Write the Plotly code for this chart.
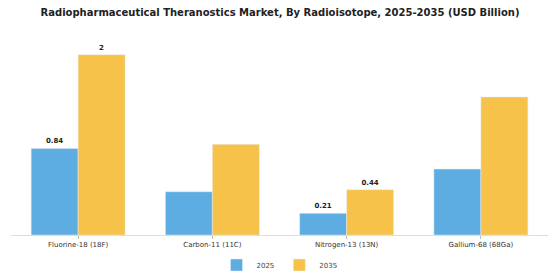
import plotly.graph_objects as go

categories = ["Fluorine-18 (18F)", "Carbon-11 (11C)", "Nitrogen-13 (13N)", "Gallium-68 (68Ga)"]
values_2025 = [0.84, 0.42, 0.21, 0.64]
values_2035 = [1.75, 0.88, 0.44, 1.34]
labels_2025 = ["<b>0.84</b>", "", "<b>0.21</b>", ""]
labels_2035 = ["<b>2</b>", "", "<b>0.44</b>", ""]

fig = go.Figure()
fig.add_trace(go.Bar(x=categories, y=values_2025, name="2025", marker_color="#5DADE2",
                     text=labels_2025, textposition="outside", cliponaxis=False,
                     textfont=dict(family="DejaVu Sans", size=7, color="#222")))
fig.add_trace(go.Bar(x=categories, y=values_2035, name="2035", marker_color="#F7C24A",
                     text=labels_2035, textposition="outside", cliponaxis=False,
                     textfont=dict(family="DejaVu Sans", size=7, color="#222")))

fig.update_layout(
    width=560, height=280,
    margin=dict(l=11, r=12, t=40, b=45, autoexpand=False),
    paper_bgcolor="white", plot_bgcolor="white",
    barmode="group", bargap=0.3, bargroupgap=0,
    title=dict(text="<b>Radiopharmaceutical Theranostics Market, By Radioisotope, 2025-2035 (USD Billion)</b>",
               x=0.5, xanchor="center", y=0.955, yanchor="middle",
               font=dict(family="DejaVu Sans", size=10, color="#222")),
    font=dict(family="DejaVu Sans", size=7, color="#333"),
    legend=dict(orientation="h", x=0.5, xanchor="center", y=-0.154, yanchor="middle",
                font=dict(size=7, color="#444"), itemwidth=30),
    showlegend=True,
)
fig.update_xaxes(showline=True, linecolor="#ddd", linewidth=1, ticks="outside", ticklen=3,
                 tickcolor="#bbb", tickfont=dict(size=7, color="#333"), automargin=False)
fig.update_yaxes(visible=False, range=[0, 1.893], showgrid=False, automargin=False)
fig.update_traces(textangle=0)

fig.write_html("out.html")
